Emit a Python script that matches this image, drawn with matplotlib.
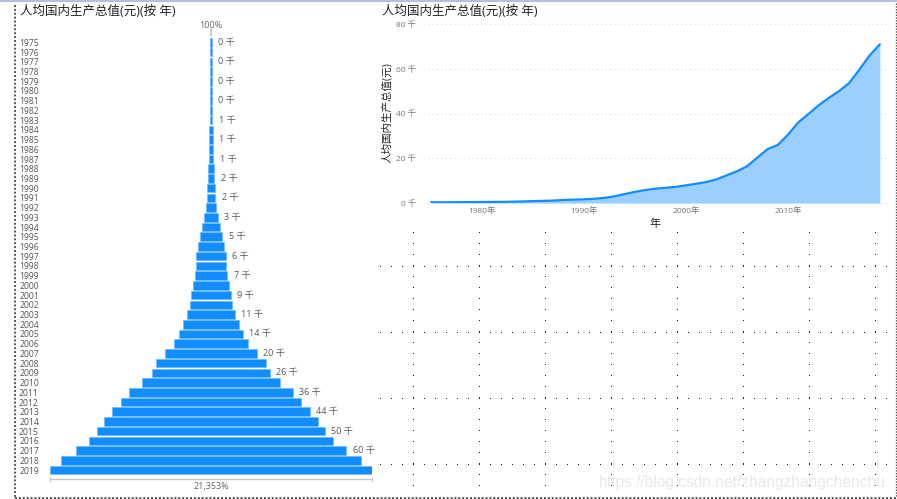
import numpy as np
import matplotlib
matplotlib.use("Agg")
import matplotlib.pyplot as plt

plt.rcParams['font.family'] = ['Open Sans', 'Noto Sans CJK SC', 'DejaVu Sans']

# per capita GDP
years = list(range(1975, 2020))
gdp = [330, 320, 340, 385, 420, 460, 490, 520, 580, 690,
       850, 950, 1100, 1350, 1500, 1650, 1900, 2300, 3000, 4000,
       5000, 5800, 6400, 6800, 7200, 7900, 8600, 9400, 10600, 12400,
       14185, 16500, 20337, 24100, 25963, 30567, 36018, 39771, 43684, 47005,
       50028, 53680, 59660, 66006, 70892]
y_ticks = [0, 20000, 40000, 60000, 80000]
y_tick_labels = ['0 千', '20 千', '40 千', '60 千', '80 千']
x_ticks = [1980, 1990, 2000, 2010]
x_tick_labels = ['1980年', '1990年', '2000年', '2010年']
title = '人均国内生产总值(元)(按 年)'

W, H = 897, 499
BLUE = '#118DFF'
GREY = '#666666'
DARK = '#252423'


def px_axes(fig, left, top, right, bottom):
    return fig.add_axes([left / W, 1 - bottom / H, (right - left) / W, (bottom - top) / H])


fig = plt.figure(figsize=(W / 100, H / 100), dpi=100, facecolor='white')

# page background, dots and borders in pixel coordinates
bg = fig.add_axes([0, 0, 1, 1], zorder=0)
bg.set_xlim(0, W)
bg.set_ylim(H, 0)
bg.axis('off')
for x in np.arange(412.5, 890, 66):
    ys = np.arange(232.5, 495, 11)
    bg.plot(np.full(len(ys), x), ys, ',', color='#222222')
for y in [266.5, 332.5, 398.5, 464.5]:
    xs = np.arange(379.5, 892, 11)
    bg.plot(xs, np.full(len(xs), y), ',', color='#222222')
bg.plot([0, W], [0.7, 0.7], color='#b3c0e4', lw=1.5)
bg.plot([15, 15], [5, 497], color='#555555', lw=1.4, ls=(0, (1, 1)))
bg.plot([15, 896], [497.5, 497.5], color='#555555', lw=1.4, ls=(0, (1, 1)))
bg.plot([896, 896], [3, 497], color='#555555', lw=1, ls=(0, (1, 1)))

# left funnel
ax1 = px_axes(fig, 50, 37.5, 372, 474.9)
ax1.barh(years, gdp, left=[-v / 2 for v in gdp], height=0.88, color=BLUE,
         edgecolor='#6db8ff', linewidth=0.5)
ax1.set_xlim(-gdp[-1] / 2, gdp[-1] / 2)
ax1.set_ylim(2019.5, 1974.5)
ax1.set_yticks(years)
ax1.set_yticklabels([str(y) for y in years])
ax1.tick_params(axis='y', length=0, pad=8, labelsize=6.2, labelcolor='#555555')
ax1.set_xticks([])
for s in ax1.spines.values():
    s.set_visible(False)
for y, v in zip(years, gdp):
    if (y - 1975) % 2 == 0 and y < 2019:
        ax1.annotate(f'{v / 1000:.0f} 千', (v / 2, y), xytext=(4.5, 0),
                     textcoords='offset points', va='center', ha='left',
                     fontsize=6.5, color='#555555')

bg.plot([50, 372], [479, 479], color='#c8c8c8', lw=1)
bg.plot([50, 50], [477, 481], color='#c8c8c8', lw=0.8)
bg.plot([372, 372], [477, 481], color='#c8c8c8', lw=0.8)
bg.plot([211, 211], [30, 35], color='#cccccc', lw=1.5)
bg.text(211, 25, '100%', ha='center', va='center', fontsize=6.5, color=GREY)
bg.text(211, 487, '21,353%', ha='center', va='center', fontsize=6.5, color=GREY)
bg.text(20, 11, title, ha='left', va='center', fontsize=9, color=DARK)

# right area chart
ax2 = px_axes(fig, 423, 24, 887, 203)
ax2.fill_between(years, gdp, color='#9ACFFF', linewidth=0)
ax2.plot(years, gdp, color=BLUE, lw=1.6, solid_capstyle='round')
ax2.set_xlim(1974.2, 2019.7)
ax2.set_ylim(0, 80000)
ax2.set_yticks(y_ticks)
ax2.set_yticklabels(y_tick_labels)
ax2.set_xticks(x_ticks)
ax2.set_xticklabels(x_tick_labels)
ax2.tick_params(axis='both', length=0, labelsize=6, labelcolor='#777777')
ax2.tick_params(axis='y', pad=5)
ax2.tick_params(axis='x', pad=3.2)
ax2.grid(axis='y', color='#d9d9d9', lw=0.8, ls=(0, (1, 3)))
ax2.set_axisbelow(True)
ax2.patch.set_alpha(0)
for s in ax2.spines.values():
    s.set_visible(False)
for l in ax2.get_ygridlines():
    l.set_clip_on(False)

bg.text(382, 11, title, ha='left', va='center', fontsize=9, color=DARK)
bg.text(387.5, 113, '人均国内生产总值(元)', rotation=90, ha='center', va='center', fontsize=7.6, color=DARK)
bg.text(655, 224, '年', ha='center', va='center', fontsize=8, color=DARK)

# watermark
bg.text(742, 482, 'https://blog.csdn.net/zhangzhangchenchu', ha='center', va='center',
        fontsize=11.2, color='#e8e8e8', family=['Liberation Sans', 'DejaVu Sans'])

fig.savefig('out.png', dpi=100)
